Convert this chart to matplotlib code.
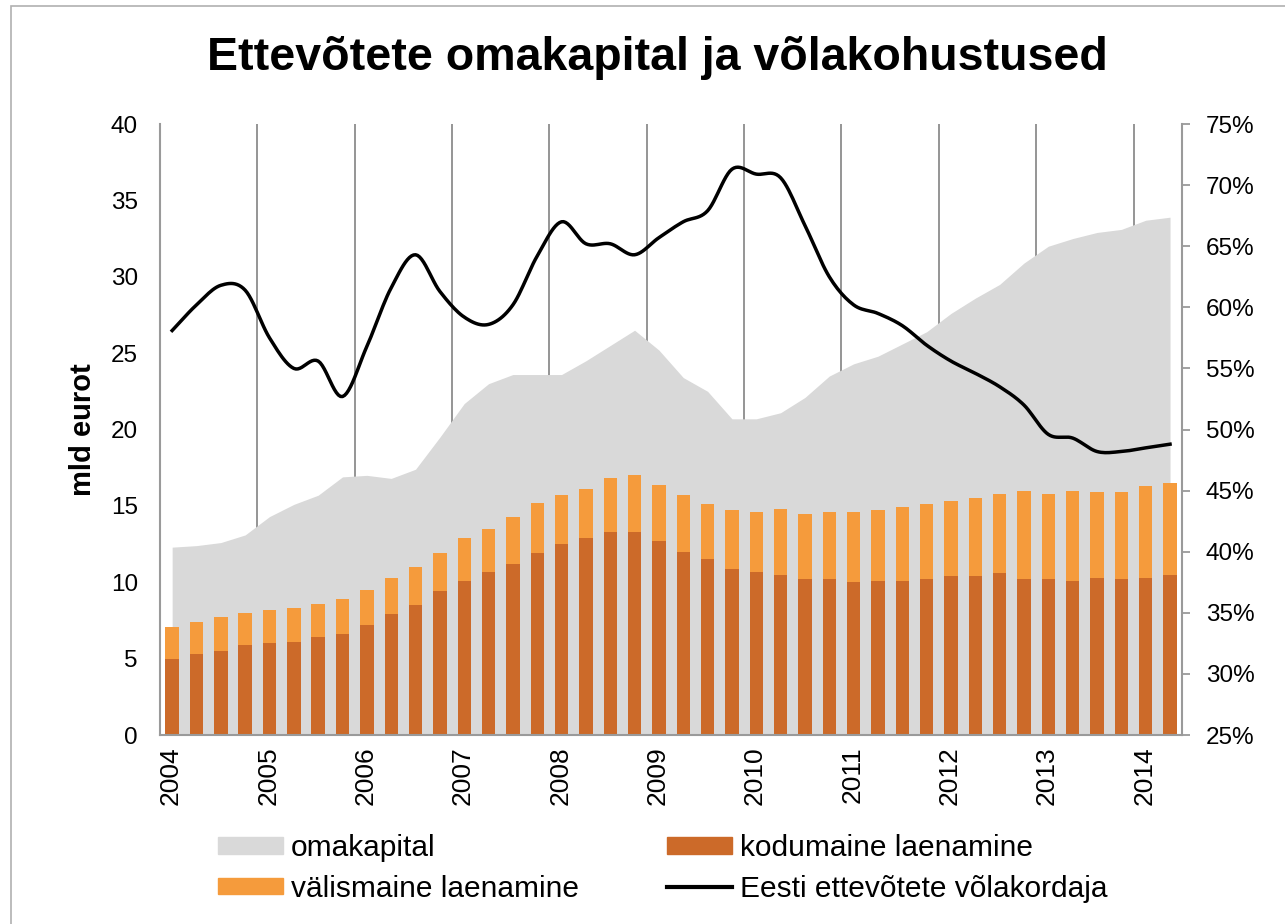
import numpy as np
import matplotlib.pyplot as plt
from matplotlib.patches import Patch, Rectangle
from matplotlib.lines import Line2D

plt.rcParams['font.family'] = ['Liberation Sans', 'DejaVu Sans']

# quarterly data 2004Q1 .. 2014Q2
years = ['2004', '2005', '2006', '2007', '2008', '2009', '2010', '2011', '2012', '2013', '2014']

omakapital = [12.3, 12.4, 12.6, 13.1, 14.3, 15.1, 15.7, 16.9, 17.0, 16.8, 17.4, 19.5, 21.7, 23.0,
              23.6, 23.6, 23.6, 24.5, 25.5, 26.5, 25.2, 23.4, 22.5, 20.7, 20.7, 21.1, 22.1, 23.5,
              24.3, 24.8, 25.6, 26.4, 27.6, 28.6, 29.5, 30.9, 32.0, 32.5, 32.9, 33.1, 33.7, 33.9]

kodumaine = [5.0, 5.3, 5.5, 5.9, 6.0, 6.1, 6.4, 6.6, 7.2, 7.9, 8.5, 9.4, 10.1, 10.7,
             11.2, 11.9, 12.5, 12.9, 13.3, 13.3, 12.7, 12.0, 11.5, 10.9, 10.7, 10.5, 10.2, 10.2,
             10.0, 10.1, 10.1, 10.2, 10.4, 10.4, 10.6, 10.2, 10.2, 10.1, 10.3, 10.2, 10.3, 10.5]

kokku = [7.1, 7.4, 7.7, 8.0, 8.2, 8.3, 8.6, 8.9, 9.5, 10.3, 11.0, 11.9, 12.9, 13.5,
         14.3, 15.2, 15.7, 16.1, 16.8, 17.0, 16.4, 15.7, 15.1, 14.7, 14.6, 14.8, 14.5, 14.6,
         14.6, 14.7, 14.9, 15.1, 15.3, 15.5, 15.8, 16.0, 15.8, 16.0, 15.9, 15.9, 16.3, 16.5]
valismaine = [t - d for t, d in zip(kokku, kodumaine)]

volakordaja = [58.1, 60.2, 61.8, 61.4, 57.5, 55.0, 55.6, 52.7, 56.8, 61.6, 64.3, 61.3, 59.2, 58.6,
               60.2, 64.2, 67.0, 65.2, 65.2, 64.3, 65.7, 67.0, 67.9, 71.3, 70.9, 70.6, 66.7, 62.5,
               60.2, 59.5, 58.5, 56.9, 55.6, 54.6, 53.5, 52.0, 49.6, 49.3, 48.2, 48.2, 48.5, 48.8]


def smooth(x, y, n=12):
    # Catmull-Rom like Excel's smoothed line
    x = np.asarray(x, float)
    y = np.asarray(y, float)
    px = np.concatenate([[2 * x[0] - x[1]], x, [2 * x[-1] - x[-2]]])
    py = np.concatenate([[2 * y[0] - y[1]], y, [2 * y[-1] - y[-2]]])
    xs, ys = [], []
    t = np.linspace(0, 1, n, endpoint=False)
    for i in range(1, len(px) - 2):
        for arr, out in ((px, xs), (py, ys)):
            p0, p1, p2, p3 = arr[i - 1], arr[i], arr[i + 1], arr[i + 2]
            out.extend(0.5 * (2 * p1 + (-p0 + p2) * t + (2 * p0 - 5 * p1 + 4 * p2 - p3) * t ** 2
                              + (-p0 + 3 * p1 - 3 * p2 + p3) * t ** 3))
    xs.append(x[-1])
    ys.append(y[-1])
    return np.array(xs), np.array(ys)


c_gray = '#d9d9d9'
c_dom = '#cc6a29'
c_for = '#f59b3c'
c_axis = '#9a9a9a'

fig = plt.figure(figsize=(12.85, 9.24), dpi=100)
ax = fig.add_axes([0.1245, 0.2045, 0.7955, 0.6613])

n = len(kodumaine)
x = np.arange(n) + 0.5

for k in range(0, n, 4):
    ax.axvline(k, color='#8c8c8c', lw=1.3, zorder=0)

ax.fill_between(x, omakapital, 0, color=c_gray, lw=0, zorder=1)
ax.bar(x, kodumaine, width=0.55, color=c_dom, zorder=2)
ax.bar(x, valismaine, bottom=kodumaine, width=0.55, color=c_for, zorder=2)

ax.set_xlim(0, n)
ax.set_ylim(0, 40)
ax.set_yticks(range(0, 41, 5))
ax.set_xticks(np.arange(0, n, 4) + 0.45)
ax.set_xticklabels(years, rotation=90, fontsize=19)
ax.tick_params(axis='x', length=0, pad=8)
ax.tick_params(axis='y', length=0, labelsize=17.5, pad=16)
ax.set_ylabel('mld eurot', fontsize=21, fontweight='bold', labelpad=10)
for s in ['top', 'right']:
    ax.spines[s].set_visible(False)
for s in ['left', 'bottom']:
    ax.spines[s].set_color(c_axis)
    ax.spines[s].set_linewidth(1.5)

ax2 = ax.twinx()
sx, sy = smooth(x, volakordaja)
ax2.plot(sx, sy, color='black', lw=2.5, zorder=5)
ax2.set_ylim(25, 75)
ax2.set_yticks(range(25, 76, 5))
ax2.set_yticklabels([f'{v}%' for v in range(25, 76, 5)])
ax2.tick_params(axis='y', length=6, width=1.3, color=c_axis, labelsize=17.5, pad=11)
for s in ['top', 'left', 'bottom']:
    ax2.spines[s].set_visible(False)
ax2.spines['right'].set_color(c_axis)
ax2.spines['right'].set_linewidth(1.5)

fig.text(657 / 1285, 1 - 70 / 924, 'Ettevõtete omakapital ja võlakohustused', ha='center', va='baseline',
         fontsize=33.5, fontweight='bold')

handles = [Patch(color=c_gray), Patch(color=c_for), Patch(color=c_dom),
           Line2D([], [], color='black', lw=3)]
labels = ['omakapital', 'välismaine laenamine', 'kodumaine laenamine', 'Eesti ettevõtete võlakordaja']
fig.legend(handles, labels, ncol=2, loc='upper left', bbox_to_anchor=(218 / 1285, 1 - 834 / 924),
           bbox_transform=fig.transFigure, frameon=False, fontsize=21.5,
           handlelength=2.17, handleheight=0.47, handletextpad=0.27, columnspacing=2.95,
           labelspacing=0.42, borderpad=0, borderaxespad=0)

fig.add_artist(Rectangle((11 / 1285, -0.01), 1.1, 1 - 6 / 924 + 0.01, transform=fig.transFigure,
                         fill=False, edgecolor='#b0b0b0', lw=1.2))

fig.savefig('out.png', dpi=100)
